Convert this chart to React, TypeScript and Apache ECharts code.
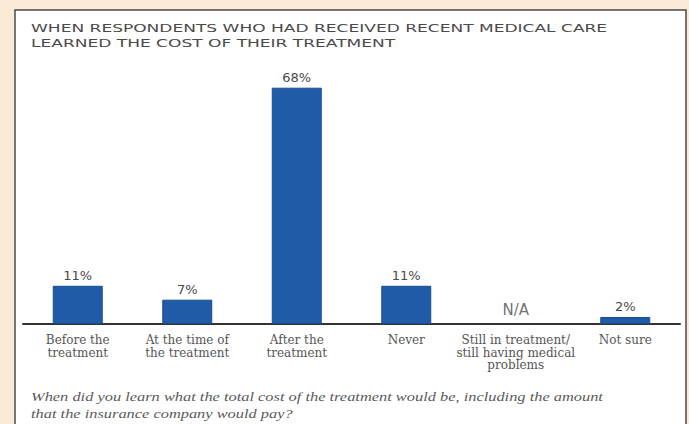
import React, { useEffect, useRef } from "react";
import * as echarts from "echarts";

const categories = [
  "Before the\ntreatment",
  "At the time of\nthe treatment",
  "After the\ntreatment",
  "Never",
  "Still in treatment/\nstill having medical\nproblems",
  "Not sure",
];
const values: (number | null)[] = [11, 7, 68, 11, null, 2];
const naCategories = ["Still in treatment/\nstill having medical\nproblems"];
const titleLines = [
  "When Respondents Who Had Received Recent Medical Care",
  "Learned The Cost of Their Treatment",
];
const footnoteLines = [
  "When did you learn what the total cost of the treatment would be, including the amount",
  "that the insurance company would pay?",
];

function measure(text: string, font: string): number {
  const c = document.createElement("canvas");
  const ctx = c.getContext("2d");
  if (!ctx) return text.length * 6;
  ctx.font = font;
  return ctx.measureText(text).width;
}

export default function App() {
  const ref = useRef<HTMLDivElement>(null);
  useEffect(() => {
    if (!ref.current) return;
    const chart = echarts.init(ref.current, undefined, { renderer: "svg" });

    const titleFont = "11px 'DejaVu Sans'";
    const titleTexts = titleLines.map((t) => t.toUpperCase());
    const titleScale = 577 / measure(titleTexts[0], titleFont);
    const footFont = "italic 12px 'Liberation Serif'";
    const footScale = 572 / measure(footnoteLines[0], footFont);

    chart.setOption({
      animation: false,
      backgroundColor: "#F9EBD6",
      grid: { left: 23, right: 9, top: 46, bottom: 100, containLabel: false },
      xAxis: {
        type: "category",
        data: categories,
        axisLine: { lineStyle: { color: "#333", width: 2 } },
        axisTick: { show: false },
        axisLabel: {
          interval: 0,
          margin: 10,
          fontFamily: "'DejaVu Serif'",
          fontSize: 12,
          lineHeight: 12.5,
          color: "#555",
        },
      },
      yAxis: {
        type: "value",
        min: 0,
        max: 80,
        show: false,
        splitLine: { show: false },
      },
      graphic: [
        {
          type: "rect",
          z: -10,
          silent: true,
          shape: { x: 15, y: 10, width: 671, height: 430 },
          style: { fill: "#ffffff", stroke: "#4a4a4a", lineWidth: 1.5 },
        },
        ...titleTexts.map((t, i) => ({
          type: "text",
          x: 31,
          y: 23 + i * 15,
          scaleX: titleScale,
          style: {
            text: t,
            font: titleFont,
            fill: "#4a4a4a",
            textVerticalAlign: "top",
          },
        })),
        ...footnoteLines.map((t, i) => ({
          type: "text",
          x: 31,
          y: 391 + i * 17,
          scaleX: footScale,
          style: {
            text: t,
            font: footFont,
            fill: "#5a5a5a",
            textVerticalAlign: "top",
          },
        })),
      ],
      series: [
        {
          type: "bar",
          data: values,
          barWidth: 50,
          itemStyle: { color: "#1F5BA7", borderColor: "#194d90", borderWidth: 1 },
          label: {
            show: true,
            position: "top",
            distance: 4,
            formatter: "{c}%",
            fontFamily: "'DejaVu Sans'",
            fontSize: 13,
            color: "#4a4a4a",
          },
        },
        {
          type: "scatter",
          data: naCategories.map((c) => [c, 0]),
          symbolSize: 0,
          label: {
            show: true,
            position: "top",
            distance: 7,
            formatter: "N/A",
            fontFamily: "'DejaVu Sans'",
            fontSize: 15,
            color: "#4a4a4a",
          },
        },
      ],
    });
    return () => chart.dispose();
  }, []);
  return (
    <div
      ref={ref}
      style={{ position: "fixed", left: 0, top: 0, width: 689, height: 424 }}
    />
  );
}
